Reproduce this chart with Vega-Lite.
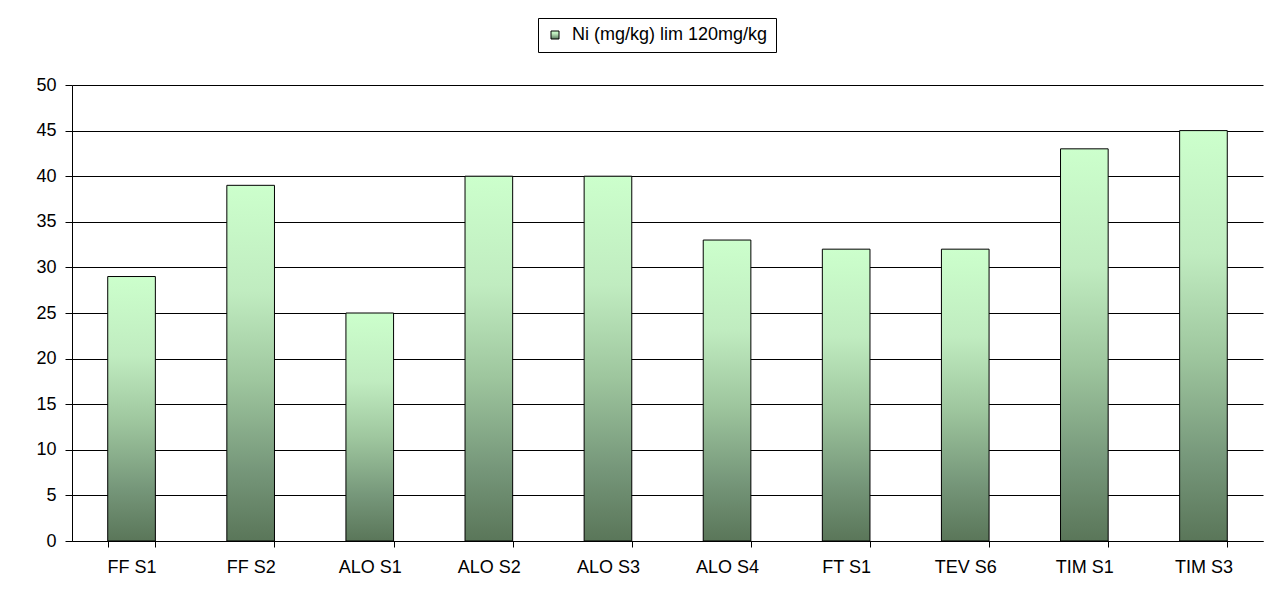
{
  "$schema": "https://vega.github.io/schema/vega-lite/v6.json",
  "autosize": "none",
  "width": 1191,
  "height": 456,
  "padding": {"left": 72, "top": 85, "right": 24, "bottom": 64},
  "background": "white",
  "config": {
    "view": {"stroke": null},
    "font": "Liberation Sans"
  },
  "data": {
    "values": [
      {"site": "FF S1", "ni": 29, "series": "Ni (mg/kg) lim 120mg/kg"},
      {"site": "FF S2", "ni": 39, "series": "Ni (mg/kg) lim 120mg/kg"},
      {"site": "ALO S1", "ni": 25, "series": "Ni (mg/kg) lim 120mg/kg"},
      {"site": "ALO S2", "ni": 40, "series": "Ni (mg/kg) lim 120mg/kg"},
      {"site": "ALO S3", "ni": 40, "series": "Ni (mg/kg) lim 120mg/kg"},
      {"site": "ALO S4", "ni": 33, "series": "Ni (mg/kg) lim 120mg/kg"},
      {"site": "FT S1", "ni": 32, "series": "Ni (mg/kg) lim 120mg/kg"},
      {"site": "TEV S6", "ni": 32, "series": "Ni (mg/kg) lim 120mg/kg"},
      {"site": "TIM S1", "ni": 43, "series": "Ni (mg/kg) lim 120mg/kg"},
      {"site": "TIM S3", "ni": 45, "series": "Ni (mg/kg) lim 120mg/kg"}
    ]
  },
  "mark": {
    "type": "bar",
    "strokeWidth": 1,
    "fill": {
      "gradient": "linear",
      "x1": 0, "y1": 0, "x2": 0, "y2": 1,
      "stops": [
        {"offset": 0, "color": "#ccffcc"},
        {"offset": 0.3, "color": "#c0ecc0"},
        {"offset": 0.55, "color": "#9ec69e"},
        {"offset": 0.8, "color": "#76977a"},
        {"offset": 1, "color": "#5a7659"}
      ]
    }
  },
  "encoding": {
    "x": {
      "field": "site",
      "type": "nominal",
      "sort": null,
      "scale": {"paddingInner": 0.6, "paddingOuter": 0.3},
      "axis": {
        "title": null,
        "labelAngle": 0,
        "labelFontSize": 18,
        "labelColor": "black",
        "labelPadding": 11,
        "tickBand": "extent",
        "tickSize": 6,
        "tickColor": "black",
        "domainColor": "black",
        "grid": false
      }
    },
    "y": {
      "field": "ni",
      "type": "quantitative",
      "scale": {"domain": [0, 50], "nice": false},
      "axis": {
        "title": null,
        "values": [0, 5, 10, 15, 20, 25, 30, 35, 40, 45, 50],
        "labelFontSize": 18,
        "labelColor": "black",
        "labelPadding": 9,
        "tickSize": 7,
        "tickColor": "black",
        "domainColor": "black",
        "grid": true,
        "gridColor": "black",
        "gridOpacity": 1
      }
    },
    "stroke": {
      "field": "series",
      "type": "nominal",
      "scale": {"range": ["black"]},
      "legend": {
        "title": null,
        "orient": "none",
        "legendX": 466,
        "legendY": -67,
        "strokeColor": "black",
        "fillColor": "white",
        "padding": 8,
        "symbolType": "square",
        "symbolSize": 64,
        "symbolFillColor": "#a3d1a3",
        "symbolStrokeWidth": 1,
        "labelFontSize": 18,
        "labelColor": "black",
        "labelLimit": 400,
        "labelOffset": 8
      }
    }
  }
}
